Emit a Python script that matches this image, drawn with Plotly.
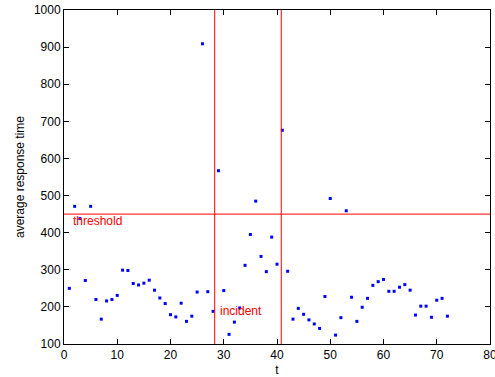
import plotly.graph_objects as go

t = list(range(1, 73))
response = [250, 471, 438, 271, 471, 220, 167, 216, 220, 231,
            299, 298, 263, 259, 264, 272, 245, 224, 209, 179,
            173, 210, 161, 175, 240, 909, 241, 188, 567, 244,
            126, 159, 197, 312, 395, 485, 336, 295, 388, 315,
            676, 296, 167, 196, 180, 165, 154, 142, 228, 492,
            124, 171, 459, 226, 161, 199, 223, 258, 268, 274,
            242, 242, 253, 260, 245, 178, 202, 202, 172, 218,
            223, 175]
threshold = 450
incident_start = 28.3
incident_end = 40.8

fig = go.Figure()
fig.add_trace(go.Scatter(x=t, y=response, mode="markers",
                         marker=dict(color="blue", size=3, symbol="square"),
                         showlegend=False))

red = "#ff0000"
fig.add_shape(type="line", xref="x", yref="y", x0=0, x1=80, y0=threshold, y1=threshold,
              line=dict(color=red, width=1))
for xv in (incident_start, incident_end):
    fig.add_shape(type="line", xref="x", yref="y", x0=xv, x1=xv, y0=100, y1=1000,
                  line=dict(color=red, width=1))

fig.add_annotation(x=1.3, y=432, xref="x", yref="y", text="threshold",
                   showarrow=False, xanchor="left", yanchor="middle",
                   font=dict(color=red, size=12, family="Liberation Sans, Arial"))
fig.add_annotation(x=29.0, y=189, xref="x", yref="y", text="incident",
                   showarrow=False, xanchor="left", yanchor="middle",
                   font=dict(color=red, size=12, family="Liberation Sans, Arial"))

axis_common = dict(showline=True, linecolor="black", linewidth=1, mirror="ticks",
                   ticks="inside", ticklen=5, tickcolor="black", showgrid=False,
                   zeroline=False, tickfont=dict(size=12, color="black"),
                   ticklabeloverflow="allow", automargin=False)
fig.update_xaxes(range=[0, 80], dtick=10, title=dict(text="t", standoff=6,
                 font=dict(size=12, color="black")), **axis_common)
fig.update_yaxes(range=[100, 1000], dtick=100, title=dict(text="average response time", standoff=6,
                 font=dict(size=12, color="black")), **axis_common)

fig.update_layout(width=495, height=377, margin=dict(l=64, r=5, t=10, b=33),
                  template="none",
                  plot_bgcolor="white", paper_bgcolor="white",
                  font=dict(family="Liberation Sans, Arial", size=12, color="black"))

fig.write_html("out.html")
